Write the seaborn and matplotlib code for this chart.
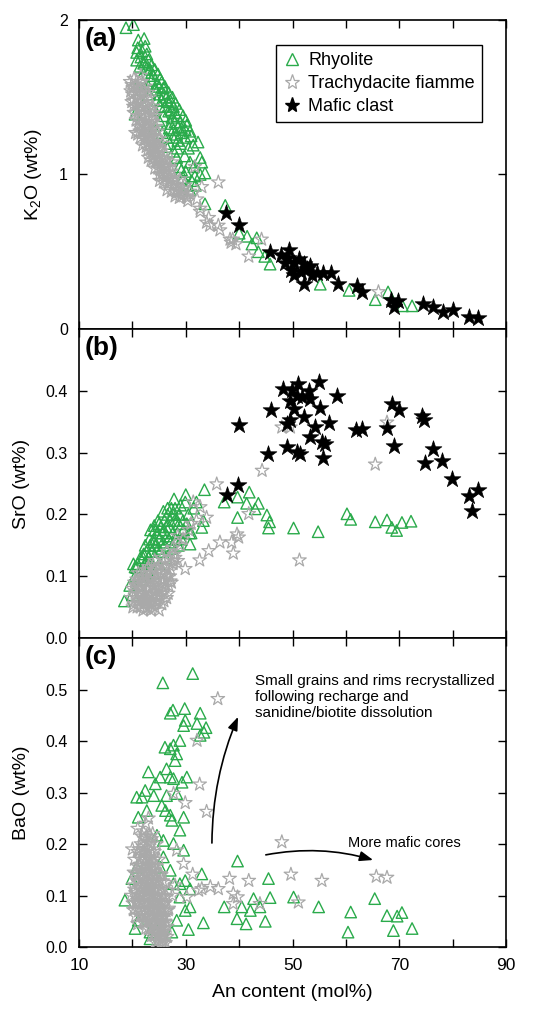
import numpy as np
import pandas as pd
import seaborn as sns
import matplotlib.pyplot as plt
from matplotlib.lines import Line2D

# ---- panel (a): An content vs K2O ----
rhy_k2o = [(18.8, 1.95), (20.2, 1.97), (21.1, 1.87), (22.2, 1.88), (20.8, 1.79), (22.7, 1.78), (20.8, 1.74),
           (23.0, 1.74), (21.4, 1.70), (23.3, 1.68), (23.9, 1.64), (25.2, 1.62), (24.6, 1.59), (25.8, 1.56),
           (26.4, 1.50), (27.1, 1.48), (20.5, 1.39), (27.7, 1.44), (28.3, 1.38), (30.2, 1.32), (29.2, 1.30),
           (27.7, 1.29), (29.9, 1.24), (26.4, 1.24), (31.4, 1.19), (32.3, 1.21), (32.7, 1.11), (33.0, 1.08),
           (33.6, 1.01), (32.7, 1.00), (28.3, 1.11), (27.7, 1.15), (26.4, 1.18), (29.2, 1.03), (31.1, 0.96),
           (30.4, 0.93), (33.6, 0.81), (37.4, 0.80), (23.6, 1.61), (24.3, 1.55), (24.9, 1.52), (25.5, 1.48),
           (26.1, 1.44), (26.8, 1.41), (27.4, 1.37), (28.0, 1.34), (28.6, 1.31), (29.2, 1.27), (25.2, 1.44),
           (24.6, 1.48), (25.8, 1.38), (27.1, 1.33), (28.3, 1.26), (22.7, 1.69), (23.6, 1.66), (22.1, 1.72),
           (22.7, 1.59), (29.5, 0.98), (30.8, 0.90), (28.8, 1.05), (31.8, 0.93), (24.0, 1.30), (25.0, 1.35),
           (21.5, 1.62), (22.0, 1.45), (30.5, 1.17), (31.0, 1.25), (29.0, 1.20), (26.9, 1.30), (24.2, 1.42),
           (21.8, 1.55), (23.2, 1.52), (21.0, 1.82), (21.8, 1.80), (22.4, 1.83), (21.6, 1.76), (22.4, 1.73),
           (23.6, 1.71), (24.2, 1.68), (24.8, 1.65), (25.5, 1.60), (26.1, 1.57), (26.8, 1.53), (27.5, 1.50),
           (28.1, 1.46), (28.8, 1.42), (29.5, 1.38), (30.0, 1.35), (29.9, 1.29), (30.8, 1.28), (25.0, 1.57),
           (25.9, 1.52), (26.6, 1.47), (27.3, 1.42), (28.0, 1.40), (29.0, 1.34), (27.6, 1.24), (28.5, 1.22),
           (29.8, 1.12), (30.8, 1.08), (31.5, 1.05), (30.0, 1.02), (31.7, 0.99), (28.4, 1.17), (27.0, 1.20),
           (25.6, 1.27), (40.0, 0.62), (41.5, 0.60), (42.4, 0.55), (43.3, 0.59), (43.6, 0.50), (44.8, 0.47),
           (45.8, 0.42), (55.2, 0.29), (60.6, 0.25), (65.5, 0.19), (67.9, 0.24), (70.6, 0.15), (72.4, 0.15)]
tra_k2o = [(19.6, 1.60), (20.3, 1.62), (21.0, 1.58), (21.8, 1.60), (22.5, 1.57), (20.0, 1.52), (20.8, 1.53),
           (21.6, 1.52), (22.4, 1.50), (23.2, 1.50), (19.9, 1.47), (20.6, 1.45), (21.4, 1.46), (22.2, 1.44),
           (23.0, 1.43), (23.8, 1.44), (20.3, 1.40), (21.0, 1.38), (21.8, 1.39), (22.6, 1.37), (23.4, 1.36),
           (24.2, 1.38), (21.2, 1.31), (22.0, 1.32), (22.8, 1.30), (23.6, 1.29), (24.4, 1.31), (20.6, 1.27),
           (21.5, 1.24), (22.3, 1.23), (23.2, 1.22), (24.0, 1.21), (25.0, 1.23), (22.9, 1.16), (23.7, 1.15),
           (24.5, 1.14), (25.4, 1.15), (26.2, 1.13), (23.5, 1.09), (24.4, 1.08), (25.3, 1.07), (26.1, 1.06),
           (27.0, 1.05), (25.1, 1.00), (26.0, 1.01), (26.9, 0.99), (27.8, 0.98), (25.1, 0.96), (26.7, 0.94),
           (27.6, 0.93), (28.5, 0.92), (29.4, 0.91), (28.2, 0.88), (29.2, 0.86), (30.2, 0.86), (30.8, 0.89),
           (31.7, 1.05), (33.0, 0.92), (36.1, 0.95), (32.7, 0.78), (34.3, 0.72), (36.1, 0.67), (38.3, 0.58),
           (30.3, 0.85), (32.1, 0.84), (32.7, 0.76), (33.9, 0.69), (34.5, 0.67), (36.4, 0.64), (38.5, 0.56),
           (39.4, 0.55), (38.8, 0.58), (41.8, 0.47), (44.2, 0.58), (66.1, 0.24), (21.4, 1.28), (20.2, 1.48),
           (19.9, 1.58), (24.8, 1.18), (27.3, 1.02), (28.0, 0.96), (29.8, 0.93), (20.1, 1.56), (20.9, 1.49),
           (21.7, 1.43), (22.5, 1.34), (23.3, 1.27), (24.1, 1.25), (24.0, 1.17), (24.9, 1.11), (25.7, 1.10),
           (26.6, 1.02), (27.4, 0.96), (28.3, 0.90), (29.0, 0.89), (21.3, 1.35), (22.1, 1.28), (23.0, 1.19),
           (23.9, 1.12), (24.8, 1.04), (25.7, 0.99), (20.8, 1.60), (21.6, 1.64), (22.9, 1.53), (23.9, 1.40),
           (24.7, 1.28), (25.6, 1.20), (26.5, 1.09), (27.4, 1.08), (28.9, 0.97), (19.7, 1.54), (20.5, 1.57),
           (21.3, 1.55), (22.1, 1.54), (20.2, 1.44), (21.1, 1.42), (21.9, 1.47), (22.7, 1.45), (23.5, 1.42),
           (20.7, 1.35), (21.6, 1.33), (22.4, 1.31), (23.1, 1.33), (23.9, 1.34), (21.0, 1.26), (21.9, 1.27),
           (22.7, 1.25), (23.5, 1.24), (24.4, 1.24), (21.9, 1.19), (22.6, 1.18), (23.4, 1.17), (24.3, 1.18),
           (25.1, 1.17), (23.0, 1.11), (23.9, 1.10), (24.8, 1.09), (25.7, 1.05), (26.5, 1.05), (24.2, 1.04),
           (25.2, 1.03), (26.2, 0.98), (27.0, 0.97), (25.8, 0.95), (26.5, 0.90), (27.3, 0.89), (28.0, 0.86),
           (28.8, 0.85), (29.7, 0.88), (30.4, 0.83)]
maf_k2o = [(37.6, 0.75), (40.0, 0.67), (45.8, 0.50), (47.9, 0.48), (49.4, 0.51), (49.1, 0.46), (50.3, 0.43),
           (51.2, 0.45), (52.1, 0.42), (52.7, 0.39), (51.5, 0.37), (50.3, 0.35), (52.1, 0.29), (53.6, 0.35),
           (54.5, 0.36), (55.8, 0.36), (57.3, 0.36), (49.7, 0.38), (48.5, 0.43), (53.3, 0.41), (58.5, 0.29),
           (62.1, 0.28), (63.0, 0.24), (68.5, 0.19), (69.7, 0.18), (69.1, 0.14), (74.5, 0.16), (76.4, 0.14),
           (78.2, 0.11), (80.0, 0.12), (83.0, 0.08), (84.8, 0.07)]

# ---- panel (b): An content vs SrO ----
rhy_sro = [(18.5, 0.060), (24.1, 0.182), (30.0, 0.232), (33.5, 0.240), (37.2, 0.220), (39.7, 0.228),
           (41.9, 0.236), (41.4, 0.218), (39.7, 0.195), (43.6, 0.218), (43.0, 0.209), (45.2, 0.199),
           (45.7, 0.188), (45.5, 0.178), (50.2, 0.178), (54.8, 0.172), (60.2, 0.201), (60.9, 0.192),
           (65.5, 0.188), (67.7, 0.191), (68.6, 0.179), (69.5, 0.174), (70.5, 0.187), (72.2, 0.189),
           (33.0, 0.179), (33.3, 0.190), (30.7, 0.170), (30.8, 0.152), (20.2, 0.120), (20.8, 0.114),
           (22.1, 0.136), (24.0, 0.155), (20.5, 0.100), (21.0, 0.120), (21.5, 0.110), (22.0, 0.130),
           (22.3, 0.120), (22.6, 0.140), (23.0, 0.130), (23.3, 0.150), (23.6, 0.140), (24.0, 0.160),
           (24.3, 0.150), (24.6, 0.170), (25.0, 0.160), (25.3, 0.180), (25.6, 0.170), (26.0, 0.190),
           (26.3, 0.180), (26.6, 0.200), (27.0, 0.190), (27.3, 0.210), (27.6, 0.200), (28.0, 0.210),
           (28.4, 0.190), (28.8, 0.200), (22.8, 0.110), (23.6, 0.120), (24.4, 0.130), (25.2, 0.140),
           (26.0, 0.150), (26.8, 0.160), (27.6, 0.170), (28.4, 0.170), (29.2, 0.160), (24.0, 0.105),
           (25.0, 0.120), (26.2, 0.130), (27.4, 0.145), (28.6, 0.150), (29.6, 0.175), (21.8, 0.095),
           (22.6, 0.100), (23.4, 0.175), (24.8, 0.190), (25.8, 0.205), (26.6, 0.210), (27.8, 0.225),
           (29.0, 0.215), (30.5, 0.200), (31.5, 0.210), (32.0, 0.220), (19.5, 0.085), (20.0, 0.070),
           (21.0, 0.085), (21.5, 0.130), (22.4, 0.150), (23.2, 0.160), (24.2, 0.175), (25.0, 0.185),
           (25.9, 0.175), (26.9, 0.180), (27.9, 0.190), (28.7, 0.185), (29.5, 0.190), (30.2, 0.185),
           (24.8, 0.145), (25.7, 0.155), (26.5, 0.165), (27.2, 0.155), (28.1, 0.160), (23.0, 0.120),
           (29.9, 0.220), (31.0, 0.170), (20.5, 0.115)]
tra_sro = [(49.6, 0.341), (48.0, 0.341), (67.7, 0.349), (65.5, 0.281), (44.3, 0.271), (35.8, 0.249),
           (51.3, 0.126), (41.8, 0.201), (39.6, 0.168), (38.6, 0.155), (38.9, 0.137), (36.4, 0.155),
           (34.3, 0.141), (32.6, 0.126), (29.9, 0.112), (39.9, 0.163), (31.4, 0.220), (32.7, 0.212),
           (33.9, 0.195), (32.0, 0.190), (27.7, 0.125), (19.8, 0.065), (20.3, 0.055), (20.6, 0.075),
           (21.0, 0.060), (21.2, 0.090), (21.5, 0.050), (21.7, 0.070), (22.0, 0.085), (22.2, 0.055),
           (22.4, 0.100), (22.6, 0.065), (22.8, 0.080), (23.0, 0.050), (23.2, 0.095), (23.4, 0.070),
           (23.6, 0.060), (23.8, 0.085), (24.0, 0.110), (24.2, 0.050), (24.4, 0.075), (24.6, 0.095),
           (24.8, 0.065), (25.0, 0.085), (25.3, 0.105), (25.5, 0.055), (25.8, 0.075), (26.0, 0.095),
           (26.4, 0.065), (26.8, 0.085), (27.2, 0.110), (27.6, 0.120), (28.0, 0.130), (28.5, 0.125),
           (20.8, 0.095), (21.9, 0.105), (23.0, 0.115), (24.2, 0.125), (25.5, 0.130), (26.5, 0.140),
           (22.0, 0.045), (23.5, 0.045), (25.0, 0.045), (20.0, 0.080), (21.4, 0.078), (22.9, 0.062),
           (24.1, 0.092), (25.6, 0.088), (26.2, 0.115), (27.0, 0.100), (29.0, 0.150), (29.5, 0.160),
           (30.5, 0.175), (31.0, 0.185), (28.5, 0.165), (27.5, 0.145), (20.4, 0.090), (21.1, 0.105),
           (21.8, 0.062), (22.5, 0.090), (23.2, 0.082), (23.9, 0.070), (24.5, 0.058), (25.2, 0.068),
           (25.9, 0.060), (26.6, 0.100), (27.3, 0.090), (23.5, 0.105), (24.7, 0.112), (22.2, 0.072),
           (20.9, 0.050), (26.0, 0.125), (27.8, 0.135), (22.6, 0.048), (20.1, 0.050), (20.7, 0.065),
           (21.3, 0.082), (21.9, 0.092), (22.5, 0.058), (23.1, 0.068), (23.7, 0.100), (24.3, 0.085),
           (24.9, 0.078), (25.4, 0.095), (26.1, 0.082), (26.7, 0.072), (27.1, 0.092), (20.5, 0.085),
           (21.6, 0.098), (22.7, 0.110), (23.9, 0.118), (25.1, 0.118), (22.2, 0.063), (23.3, 0.056),
           (24.6, 0.065), (25.8, 0.102), (26.9, 0.118), (21.1, 0.072), (23.8, 0.052)]
maf_sro = [(40.0, 0.344), (37.7, 0.232), (39.7, 0.248), (45.5, 0.297), (45.9, 0.369), (48.2, 0.403),
           (51.1, 0.411), (54.9, 0.414), (58.3, 0.391), (53.0, 0.400), (49.6, 0.384), (51.8, 0.390),
           (53.3, 0.387), (50.2, 0.371), (55.2, 0.372), (49.6, 0.352), (48.9, 0.347), (52.1, 0.357),
           (54.3, 0.341), (56.8, 0.348), (53.3, 0.325), (55.5, 0.317), (56.1, 0.314), (48.9, 0.309),
           (50.8, 0.301), (51.4, 0.298), (55.7, 0.291), (61.9, 0.336), (63.0, 0.338), (67.7, 0.340),
           (69.1, 0.311), (68.6, 0.379), (69.9, 0.369), (74.3, 0.360), (74.6, 0.352), (76.4, 0.306),
           (74.9, 0.283), (78.0, 0.286), (79.9, 0.257), (83.0, 0.229), (84.7, 0.240), (83.6, 0.206),
           (49.9, 0.401), (50.8, 0.392)]

# ---- panel (c): An content vs BaO ----
rhy_bao = [(25.7, 0.513), (31.3, 0.531), (27.1, 0.454), (27.6, 0.460), (29.8, 0.463), (32.7, 0.454),
           (29.9, 0.440), (29.6, 0.430), (32.1, 0.434), (33.8, 0.426), (33.4, 0.417), (32.7, 0.411),
           (28.9, 0.401), (27.7, 0.392), (26.1, 0.388), (27.1, 0.385), (28.3, 0.375), (28.0, 0.362),
           (26.4, 0.346), (23.0, 0.340), (25.2, 0.330), (27.1, 0.330), (27.7, 0.327), (30.2, 0.330),
           (29.3, 0.320), (24.3, 0.317), (22.4, 0.304), (20.8, 0.291), (21.8, 0.291), (24.0, 0.294),
           (26.4, 0.294), (28.3, 0.298), (25.5, 0.275), (26.2, 0.265), (22.7, 0.265), (27.1, 0.256),
           (27.4, 0.246), (29.6, 0.252), (28.9, 0.227), (21.1, 0.252), (24.6, 0.217), (25.8, 0.207),
           (27.7, 0.201), (29.6, 0.188), (20.8, 0.155), (19.9, 0.133), (18.6, 0.091), (20.5, 0.036),
           (23.3, 0.029), (23.3, 0.016), (30.5, 0.034), (33.3, 0.047), (33.0, 0.142), (30.8, 0.113),
           (30.8, 0.078), (28.9, 0.097), (28.3, 0.052), (27.4, 0.029), (25.8, 0.175), (27.1, 0.149),
           (27.7, 0.123), (29.9, 0.071), (28.9, 0.123), (25.2, 0.155), (21.1, 0.052), (24.0, 0.045),
           (29.9, 0.129), (39.7, 0.167), (37.2, 0.078), (39.6, 0.055), (41.3, 0.045), (40.5, 0.078),
           (42.1, 0.071), (42.7, 0.094), (43.9, 0.078), (44.9, 0.050), (45.5, 0.133), (45.8, 0.096),
           (50.2, 0.097), (54.9, 0.078), (60.4, 0.029), (60.9, 0.068), (65.4, 0.094), (67.7, 0.061),
           (68.9, 0.032), (69.6, 0.060), (70.5, 0.067), (72.4, 0.036)]
tra_bao = [(36.0, 0.482), (32.1, 0.401), (32.6, 0.316), (33.9, 0.263), (29.9, 0.280), (27.7, 0.298),
           (48.0, 0.204), (31.3, 0.141), (33.0, 0.113), (34.6, 0.117), (36.1, 0.113), (38.2, 0.133),
           (38.9, 0.104), (39.7, 0.097), (38.9, 0.084), (41.8, 0.129), (43.9, 0.084), (49.7, 0.141),
           (51.1, 0.087), (55.5, 0.129), (65.7, 0.137), (67.7, 0.135), (32.4, 0.110), (30.2, 0.097),
           (29.6, 0.162), (28.3, 0.188), (21.6, 0.200), (22.2, 0.210), (22.8, 0.190), (23.4, 0.200),
           (21.9, 0.180), (22.5, 0.170), (23.1, 0.175), (23.7, 0.180), (21.4, 0.160), (22.0, 0.155),
           (22.6, 0.150), (23.2, 0.145), (23.8, 0.155), (21.7, 0.135), (22.3, 0.130), (22.9, 0.125),
           (23.5, 0.130), (24.1, 0.135), (21.3, 0.115), (21.9, 0.110), (22.5, 0.105), (23.1, 0.110),
           (23.7, 0.100), (20.8, 0.095), (21.5, 0.090), (22.2, 0.085), (22.8, 0.080), (23.4, 0.090),
           (20.5, 0.075), (21.2, 0.070), (21.9, 0.065), (20.2, 0.120), (20.4, 0.170), (20.0, 0.190),
           (21.0, 0.230), (22.5, 0.240), (23.0, 0.250), (23.8, 0.220), (24.5, 0.200), (25.0, 0.170),
           (25.4, 0.140), (26.2, 0.125), (26.8, 0.110), (27.5, 0.100), (28.0, 0.120), (24.0, 0.085),
           (24.6, 0.080), (25.2, 0.075), (25.8, 0.070), (24.3, 0.065), (24.9, 0.060), (25.5, 0.055),
           (26.1, 0.050), (24.0, 0.045), (24.6, 0.040), (25.2, 0.035), (25.8, 0.030), (24.4, 0.025),
           (25.0, 0.020), (25.6, 0.015), (26.2, 0.008), (23.6, 0.055), (26.5, 0.040), (23.0, 0.035),
           (22.4, 0.050), (21.0, 0.045), (20.6, 0.060), (26.0, 0.095), (24.8, 0.100), (26.8, 0.075),
           (21.2, 0.190), (22.0, 0.195), (22.9, 0.205), (23.6, 0.210), (21.6, 0.170), (22.3, 0.165),
           (23.0, 0.160), (23.6, 0.165), (21.0, 0.140), (21.7, 0.145), (22.4, 0.140), (23.1, 0.135),
           (23.9, 0.125), (24.6, 0.120), (21.1, 0.125), (21.8, 0.120), (22.6, 0.115), (23.3, 0.120),
           (24.2, 0.110), (20.6, 0.105), (21.3, 0.100), (22.0, 0.100), (22.7, 0.095), (23.3, 0.075),
           (23.9, 0.070), (22.6, 0.065), (22.9, 0.050), (23.4, 0.040), (24.2, 0.030), (24.8, 0.050),
           (25.4, 0.045), (25.9, 0.060), (26.3, 0.070), (25.0, 0.090), (25.5, 0.085), (24.4, 0.095),
           (20.1, 0.085), (19.8, 0.100), (20.3, 0.145), (22.0, 0.225), (24.2, 0.170), (24.0, 0.150),
           (26.5, 0.020), (25.3, 0.005), (24.7, 0.012), (21.8, 0.215), (22.6, 0.215), (23.3, 0.215),
           (21.0, 0.185), (21.9, 0.185), (22.7, 0.185), (23.4, 0.185), (24.1, 0.185), (20.9, 0.158),
           (21.4, 0.158), (22.9, 0.158), (23.5, 0.158), (24.4, 0.158), (20.6, 0.142), (24.7, 0.142),
           (25.2, 0.142), (20.9, 0.128), (22.1, 0.128), (24.4, 0.128), (25.0, 0.128), (25.7, 0.128),
           (20.4, 0.112), (22.7, 0.112), (23.6, 0.112), (24.9, 0.112), (25.5, 0.112), (21.7, 0.098),
           (23.3, 0.098), (24.1, 0.098), (25.8, 0.098), (26.4, 0.098), (20.7, 0.086), (21.0, 0.086),
           (23.7, 0.086), (24.4, 0.086), (25.3, 0.086), (26.2, 0.086), (20.2, 0.072), (22.3, 0.072),
           (23.0, 0.072), (24.2, 0.072), (24.8, 0.072), (26.7, 0.072), (21.5, 0.060), (22.1, 0.060),
           (23.2, 0.060), (24.0, 0.060), (25.1, 0.060), (25.9, 0.060), (22.0, 0.048), (23.9, 0.048),
           (24.3, 0.048), (25.7, 0.048), (26.3, 0.048), (22.5, 0.036), (24.7, 0.036), (25.4, 0.036),
           (26.0, 0.036), (23.6, 0.022), (24.1, 0.022), (25.7, 0.022), (26.0, 0.022), (24.3, 0.010),
           (25.9, 0.010)]

x_ticks = [10, 20, 30, 40, 50, 60, 70, 80, 90]
x_ticklabels = ['10', '', '30', '', '50', '', '70', '', '90']
panel_names = ['(a)', '(b)', '(c)']
y_labels = ['K$_2$O (wt%)', 'SrO (wt%)', 'BaO (wt%)']
y_limits = [(0, 2), (0, 0.5), (0, 0.6)]
y_ticks = [[0, 1, 2], [0, 0.1, 0.2, 0.3, 0.4], [0, 0.1, 0.2, 0.3, 0.4, 0.5]]
y_ticklabels = [['0', '1', '2'], ['0.0', '0.1', '0.2', '0.3', '0.4'],
                ['0.0', '0.1', '0.2', '0.3', '0.4', '0.5']]
series_names = ['Rhyolite', 'Trachydacite fiamme', 'Mafic clast']

sns.set_style('ticks')
plt.rcParams['font.family'] = ['Liberation Sans', 'DejaVu Sans']
plt.rcParams['mathtext.fontset'] = 'custom'
plt.rcParams['mathtext.rm'] = 'Liberation Sans'
plt.rcParams['mathtext.it'] = 'Liberation Sans:italic'
for key in ['text.color', 'axes.labelcolor', 'xtick.color', 'ytick.color', 'axes.edgecolor']:
    plt.rcParams[key] = 'black'

green = '#2aab4b'
grey = '#a9a9a9'

fig, axes = plt.subplots(3, 1, figsize=(5.39, 10.09), dpi=100, sharex=True)
fig.subplots_adjust(left=0.1466, right=0.9388, top=0.9802, bottom=0.0614, hspace=0)

panels = [(rhy_k2o, tra_k2o, maf_k2o), (rhy_sro, tra_sro, maf_sro), (rhy_bao, tra_bao, None)]

for i, ax in enumerate(axes):
    rhy, tra, maf = panels[i]
    d = pd.DataFrame(rhy, columns=['An', 'v'])
    sns.scatterplot(data=d, x='An', y='v', marker='^', s=68, facecolors='none',
                    edgecolor=green, linewidth=1.0, ax=ax, legend=False, zorder=2)
    d = pd.DataFrame(tra, columns=['An', 'v'])
    sns.scatterplot(data=d, x='An', y='v', marker='*', s=105, facecolors='none',
                    edgecolor=grey, linewidth=0.9, ax=ax, legend=False, zorder=3)
    if maf is not None:
        d = pd.DataFrame(maf, columns=['An', 'v'])
        sns.scatterplot(data=d, x='An', y='v', marker='*', s=160, color='black',
                        edgecolor='black', linewidth=0.5, ax=ax, legend=False, zorder=4)

    ax.set_xlim(10, 90)
    ax.set_ylim(*y_limits[i])
    ax.set_yticks(y_ticks[i])
    ax.set_yticklabels(y_ticklabels[i], fontsize=11.5)
    ax.set_ylabel(y_labels[i], fontsize=14, labelpad=11)
    ax.set_xlabel('')
    ax.tick_params(direction='in', top=True, right=True, length=6, width=1, color='black')
    ax.tick_params(axis='y', pad=8)
    for sp in ax.spines.values():
        sp.set_linewidth(1.2)
        sp.set_color('black')
    ax.text(0.012, 0.978, panel_names[i], transform=ax.transAxes, fontsize=19,
            fontweight='bold', va='top', ha='left')

axes[2].set_xticks(x_ticks)
axes[2].set_xticklabels(x_ticklabels, fontsize=12.5)
axes[2].tick_params(axis='x', pad=8)
axes[2].set_xlabel('An content (mol%)', fontsize=14, labelpad=8)

# legend in panel (a)
handles = [Line2D([], [], ls='none', marker='^', ms=8, mfc='none', mec=green, mew=1.0),
           Line2D([], [], ls='none', marker='*', ms=11, mfc='none', mec=grey, mew=0.9),
           Line2D([], [], ls='none', marker='*', ms=11, mfc='black', mec='black')]
leg = axes[0].legend(handles, series_names, loc='upper right', bbox_to_anchor=(0.944, 0.919),
                     fontsize=13, frameon=True, fancybox=False, framealpha=1, edgecolor='black',
                     handlelength=1.0, handletextpad=0.4, labelspacing=0.33, borderpad=0.4,
                     borderaxespad=0)
leg.get_frame().set_linewidth(1.0)

# annotations in panel (c)
ax = axes[2]
ax.text(43.0, 0.530, 'Small grains and rims recrystallized\nfollowing recharge and\nsanidine/biotite dissolution',
        fontsize=11, va='top', ha='left', linespacing=1.2)
ax.annotate('', xy=(39.8, 0.447), xytext=(34.9, 0.202),
            arrowprops=dict(arrowstyle='-|>,head_length=0.8,head_width=0.3', color='black', lw=1.2,
                            connectionstyle='arc3,rad=-0.1', shrinkA=0, shrinkB=0))
ax.text(60.4, 0.194, 'More mafic cores', fontsize=10.5, va='baseline', ha='left')
ax.annotate('', xy=(65.1, 0.169), xytext=(45.0, 0.179),
            arrowprops=dict(arrowstyle='-|>,head_length=0.8,head_width=0.3', color='black', lw=1.2,
                            connectionstyle='arc3,rad=-0.12', shrinkA=0, shrinkB=0))

fig.savefig('out.png', dpi=100)
